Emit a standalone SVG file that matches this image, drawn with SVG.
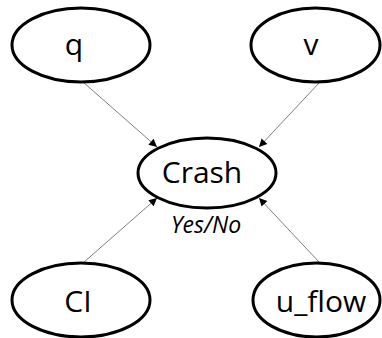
<svg xmlns="http://www.w3.org/2000/svg" width="382" height="338" viewBox="0 0 382 338">
  <style>
    .node ellipse { fill: #ffffff; stroke: #000000; stroke-width: 3; }
    .label { font-family: "Open Sans", "Liberation Sans", sans-serif; font-size: 30px; fill: #000000; text-anchor: middle; }
    .note { font-family: "Open Sans", "Liberation Sans", sans-serif; font-size: 23px; font-style: italic; fill: #000000; text-anchor: middle; }
    .edge { stroke: #7f7f7f; stroke-width: 1; fill: none; marker-end: url(#arrow); }
  </style>
  <defs>
    <marker id="arrow" viewBox="0 0 10 10" refX="10" refY="5" markerWidth="9" markerHeight="8" markerUnits="userSpaceOnUse" orient="auto">
      <path d="M0,0 L10,5 L0,10 z" fill="#000000"/>
    </marker>
  </defs>

  <rect width="382" height="338" fill="#ffffff"/>

  <g id="connectors">
    <line class="edge" x1="83" y1="82" x2="157" y2="147"/>
    <line class="edge" x1="319" y1="83" x2="259" y2="147"/>
    <line class="edge" x1="83" y1="263" x2="157" y2="198"/>
    <line class="edge" x1="319" y1="262" x2="259" y2="198"/>
  </g>

  <g id="q" class="node">
    <ellipse cx="81" cy="45" rx="69" ry="37"/>
    <text class="label" x="74" y="55">q</text>
  </g>
  <g id="v" class="node">
    <ellipse cx="315.5" cy="45" rx="64.5" ry="37"/>
    <text class="label" x="311" y="55">v</text>
  </g>
  <g id="crash" class="node">
    <ellipse cx="207" cy="173" rx="69" ry="35"/>
    <text class="label" x="202" y="183">Crash</text>
    <text class="note" x="206" y="233">Yes/No</text>
  </g>
  <g id="CI" class="node">
    <ellipse cx="81" cy="300" rx="69" ry="37"/>
    <text class="label" x="78" y="312">CI</text>
  </g>
  <g id="u_flow" class="node">
    <ellipse cx="316.5" cy="300" rx="63.5" ry="37"/>
    <text class="label" x="321" y="312">u_flow</text>
  </g>
</svg>
